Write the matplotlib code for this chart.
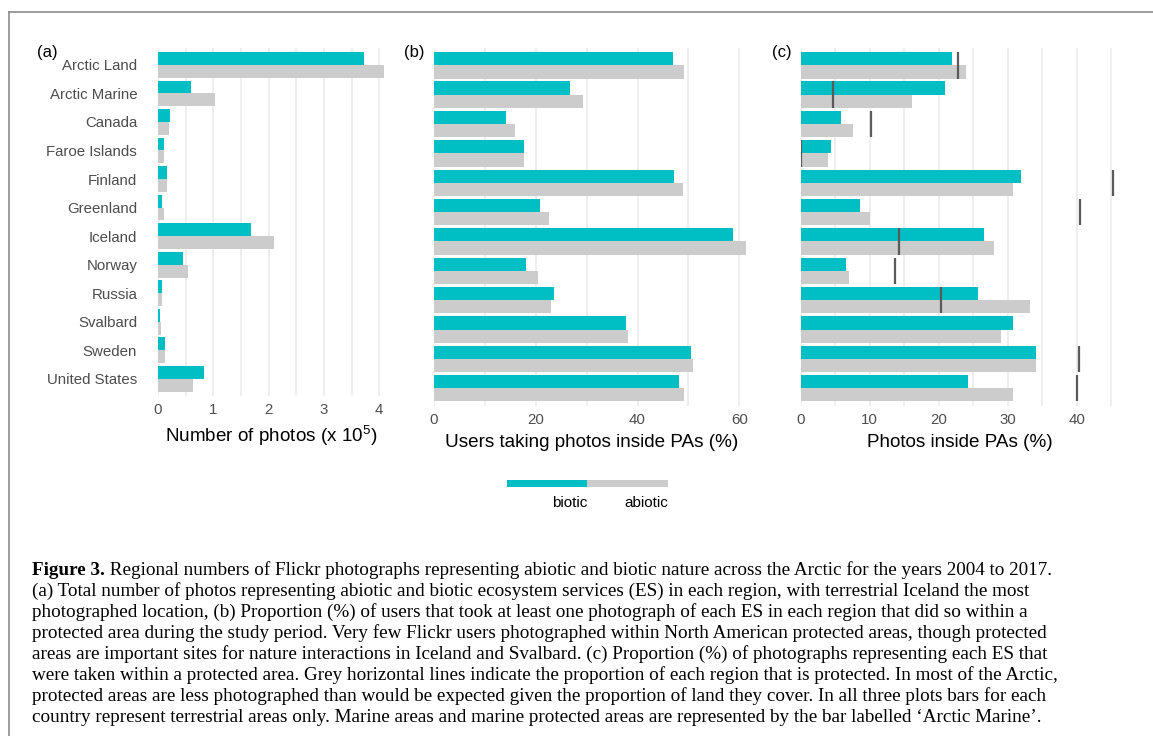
import numpy as np
import matplotlib
matplotlib.use("Agg")
import matplotlib.pyplot as plt
from matplotlib.lines import Line2D

# data
regions = ["Arctic Land", "Arctic Marine", "Canada", "Faroe Islands", "Finland",
           "Greenland", "Iceland", "Norway", "Russia", "Svalbard", "Sweden",
           "United States"]

# (a) number of photos, x 10^5
photos_biotic = [3.72, 0.59, 0.22, 0.10, 0.16, 0.07, 1.69, 0.46, 0.07, 0.03, 0.12, 0.83]
photos_abiotic = [4.08, 1.03, 0.20, 0.10, 0.16, 0.10, 2.10, 0.55, 0.07, 0.05, 0.12, 0.64]

# (b) users taking photos inside PAs (%)
users_biotic = [47.0, 26.7, 14.1, 17.7, 47.2, 20.8, 58.8, 18.1, 23.6, 37.7, 50.5, 48.1]
users_abiotic = [49.1, 29.3, 15.9, 17.7, 48.9, 22.6, 61.3, 20.4, 23.0, 38.1, 50.9, 49.1]

# (c) photos inside PAs (%) and share of region protected (%)
inside_biotic = [21.9, 20.9, 5.8, 4.4, 31.9, 8.6, 26.6, 6.6, 25.7, 30.8, 34.1, 24.3]
inside_abiotic = [24.0, 16.1, 7.6, 4.0, 30.8, 10.0, 28.0, 7.0, 33.2, 29.0, 34.1, 30.8]
protected = [22.8, 4.7, 10.2, 0.1, 45.2, 40.5, 14.3, 13.7, 20.3, np.nan, 40.4, 40.1]

caption_head = "Figure 3."
caption_lines = [
    " Regional numbers of Flickr photographs representing abiotic and biotic nature across the Arctic for the years 2004 to 2017.",
    "(a) Total number of photos representing abiotic and biotic ecosystem services (ES) in each region, with terrestrial Iceland the most",
    "photographed location, (b) Proportion (%) of users that took at least one photograph of each ES in each region that did so within a",
    "protected area during the study period. Very few Flickr users photographed within North American protected areas, though protected",
    "areas are important sites for nature interactions in Iceland and Svalbard. (c) Proportion (%) of photographs representing each ES that",
    "were taken within a protected area. Grey horizontal lines indicate the proportion of each region that is protected. In most of the Arctic,",
    "protected areas are less photographed than would be expected given the proportion of land they cover. In all three plots bars for each",
    "country represent terrestrial areas only. Marine areas and marine protected areas are represented by the bar labelled \u2018Arctic Marine\u2019.",
]

TEAL = "#00BFC4"
GREY = "#CCCCCC"
W, H = 1153, 736

plt.rcParams["font.family"] = ["Liberation Sans", "DejaVu Sans"]
plt.rcParams["mathtext.fontset"] = "custom"
plt.rcParams["mathtext.rm"] = "Liberation Sans"
plt.rcParams["mathtext.it"] = "Liberation Sans"


def px_rect(left, top, right, bottom):
    return [left / W, 1 - bottom / H, (right - left) / W, (bottom - top) / H]


def draw_panel(ax, biotic, abiotic, xmax, major, minor, show_labels):
    y = np.arange(len(regions))
    ax.barh(y - 0.225, biotic, height=0.45, color=TEAL, zorder=2)
    ax.barh(y + 0.225, abiotic, height=0.45, color=GREY, zorder=2)
    ax.set_xlim(0, xmax)
    ax.set_ylim(len(regions) - 0.4, -0.6)
    ax.set_xticks(major)
    ax.set_xticks(minor, minor=True)
    ax.grid(axis="x", which="major", color="#EBEBEB", linewidth=1.1, zorder=0)
    ax.grid(axis="x", which="minor", color="#EBEBEB", linewidth=1.1, zorder=0)
    ax.set_axisbelow(True)
    for s in ax.spines.values():
        s.set_visible(False)
    ax.tick_params(axis="both", which="both", length=0, labelsize=10.8,
                   labelcolor="#4D4D4D")
    ax.tick_params(axis="x", pad=5)
    ax.set_yticks(y)
    if show_labels:
        ax.set_yticklabels(regions)
        ax.tick_params(axis="y", pad=15)
    else:
        ax.set_yticklabels([])


def main():
    fig = plt.figure(figsize=(W / 100, H / 100), dpi=100)

    ax_a = fig.add_axes(px_rect(158, 47.7, 158 + 4.1 * 55.3, 396.0))
    ax_b = fig.add_axes(px_rect(434, 47.7, 434 + 62 * 5.088, 405.9))
    ax_c = fig.add_axes(px_rect(800.7, 47.7, 800.7 + 46 * 6.9, 405.9))

    draw_panel(ax_a, photos_biotic, photos_abiotic, 4.1,
               [0, 1, 2, 3, 4], [0.5, 1.5, 2.5, 3.5], True)
    draw_panel(ax_b, users_biotic, users_abiotic, 62,
               [0, 20, 40, 60], [10, 30, 50], False)
    draw_panel(ax_c, inside_biotic, inside_abiotic, 46,
               [0, 10, 20, 30, 40], [5, 15, 25, 35, 45], False)

    y = np.arange(len(regions))
    ax_c.vlines(protected, y - 0.45, y + 0.45, color="#5A5A5A", linewidth=1.6,
                zorder=3)

    # panel letters and axis titles
    for x, lab in [(47, "(a)"), (414, "(b)"), (781.7, "(c)")]:
        fig.text(x / W, 1 - 52 / H, lab, fontsize=12, ha="center", va="center")
    fig.text(271 / W, 1 - 441.7 / H, "Number of photos (x 10$^5$)",
             fontsize=13.6, ha="center", va="baseline")
    fig.text((434 + 749.5) / 2 / W, 1 - 446.5 / H,
             "Users taking photos inside PAs (%)", fontsize=13.6,
             ha="center", va="baseline")
    fig.text((800.7 + 1118) / 2 / W, 1 - 446.5 / H,
             "Photos inside PAs (%)", fontsize=13.6, ha="center", va="baseline")

    # legend
    leg = fig.add_axes(px_rect(506.7, 480, 667.7, 486.7))
    leg.barh([0, 0], [1, 1], left=[0, 1], height=1, color=[TEAL, GREY])
    leg.set_xlim(0, 2)
    leg.set_ylim(-0.5, 0.5)
    leg.axis("off")
    fig.text(587 / W, 1 - 503 / H, "biotic", fontsize=11, ha="right", va="center")
    fig.text(668 / W, 1 - 503 / H, "abiotic", fontsize=11, ha="right", va="center")

    # page frame
    fig.add_artist(Line2D([9 / W, 1], [1 - 12 / H, 1 - 12 / H],
                          transform=fig.transFigure, color="#8C8C8C", lw=1.2))
    fig.add_artist(Line2D([9 / W, 9 / W], [0, 1 - 12 / H],
                          transform=fig.transFigure, color="#8C8C8C", lw=1.2))

    # caption
    serif = ["Liberation Serif", "DejaVu Serif"]
    cap_size = 13.8
    renderer = fig.canvas.get_renderer()
    head = fig.text(32 / W, 1 - 575 / H, caption_head, family=serif,
                    fontsize=cap_size, fontweight="bold", va="baseline")
    head_right = head.get_window_extent(renderer).x1 / W
    for i, line in enumerate(caption_lines):
        x = head_right if i == 0 else 32 / W
        fig.text(x, 1 - (575 + i * 20.96) / H, line, family=serif,
                 fontsize=cap_size, va="baseline")

    fig.savefig("out.png", dpi=100)


if __name__ == "__main__":
    main()
